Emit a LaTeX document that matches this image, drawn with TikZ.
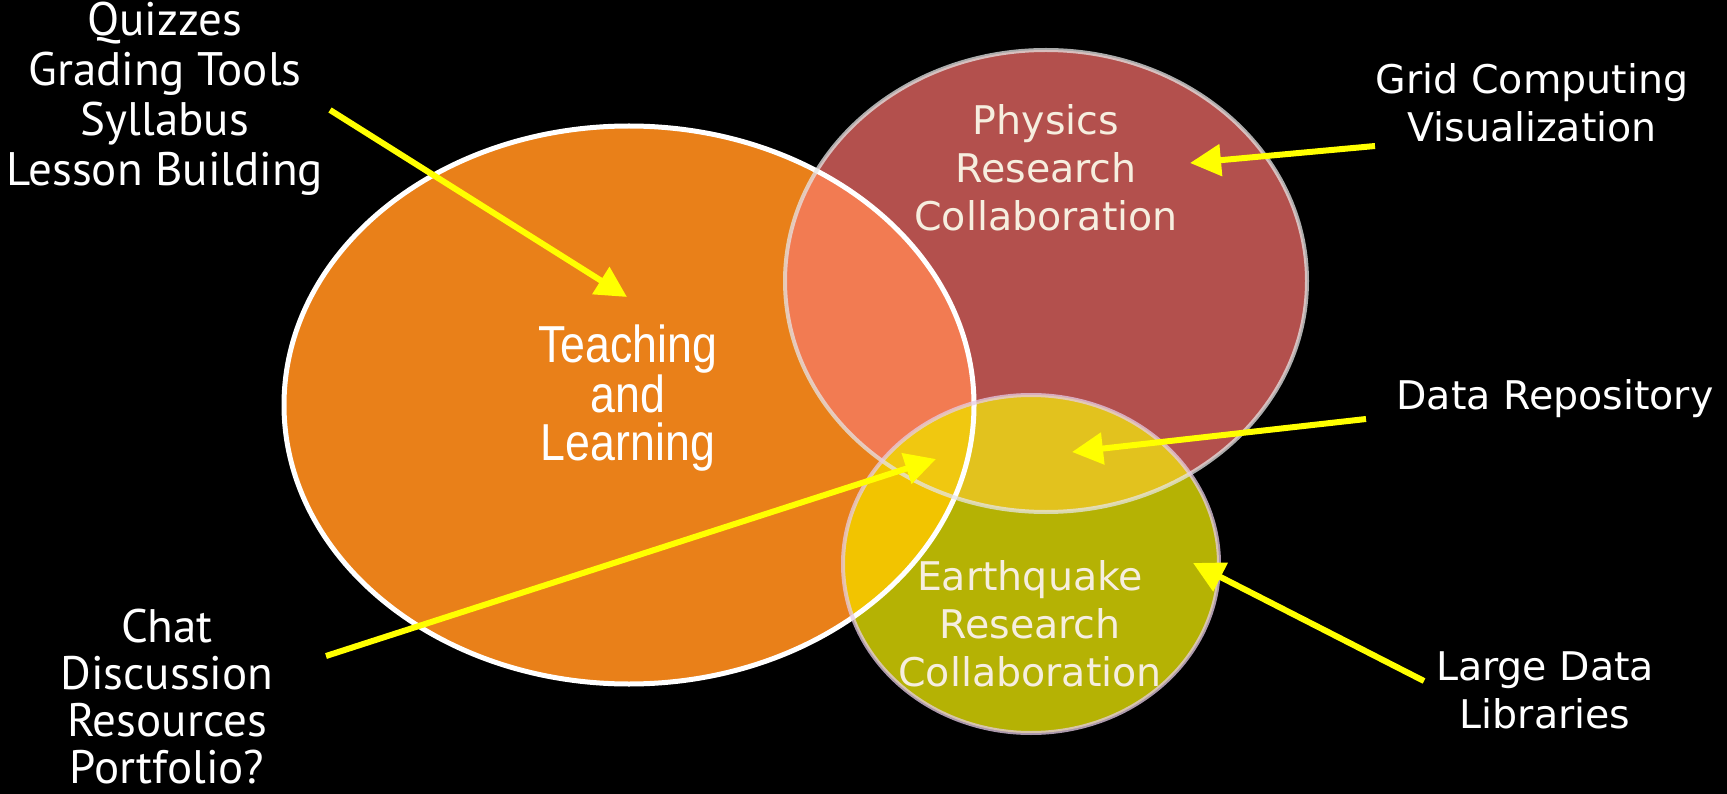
\documentclass[tikz,border=0pt]{standalone}
\usepackage{fontspec}
\setmainfont{DejaVu Sans}
\newfontfamily\leftfont{PT Sans}
\newfontfamily\narrowfont[FakeStretch=0.86]{Liberation Sans}
\newfontfamily\rightfont{DejaVu Sans}
\usetikzlibrary{arrows.meta}
\definecolor{orangefill}{HTML}{E98019}
\definecolor{redfill}{HTML}{B3504D}
\definecolor{olivefill}{HTML}{B5B204}
\definecolor{salmon}{HTML}{F27B52}
\definecolor{goldA}{HTML}{E2C21E}
\definecolor{goldB}{HTML}{F2C400}
\definecolor{goldC}{HTML}{F0C810}
\definecolor{cream}{HTML}{F6EEDF}
\definecolor{arrowyellow}{HTML}{FFFF00}
\tikzset{
  leftlabel/.style={text=white, align=center, font=\leftfont\fontsize{47}{50}\selectfont},
  leftlabelb/.style={text=white, align=center, inner sep=0pt, font=\leftfont\fontsize{47}{47}\selectfont},
  rightlabel/.style={text=white, align=center, font=\rightfont\fontsize{39.5}{48}\selectfont},
  circlabel/.style={text=cream, align=center, font=\rightfont\fontsize{39.5}{48}\selectfont},
  teachlabel/.style={text=white, align=center, font=\narrowfont\fontsize{52}{48}\selectfont},
  pointer/.style={draw=arrowyellow, line width=6pt, -{Triangle[length=31pt,width=31pt]}}
}
\begin{document}
\begin{tikzpicture}[x=1pt,y=-1pt]
\fill[black] (0,0) rectangle (1727,794);
\useasboundingbox (0,0) rectangle (1727,794);
\def\orangepath{(629,405) ellipse [x radius=345pt, y radius=279pt]}
\def\redpath{(1046,281) ellipse [x radius=261pt, y radius=231pt]}
\def\olivepath{(1031,564) ellipse [x radius=188pt, y radius=169pt]}
% fills
\fill[orangefill] \orangepath;
\fill[redfill] \redpath;
\fill[olivefill] \olivepath;
\begin{scope}
  \clip \orangepath;
  \fill[salmon] \redpath;
  \fill[goldB] \olivepath;
\end{scope}
\begin{scope}
  \clip \redpath;
  \fill[goldA] \olivepath;
\end{scope}
\begin{scope}
  \clip \orangepath;
  \clip \redpath;
  \fill[goldC] \olivepath;
\end{scope}
% borders
\draw[white, line width=5pt] \orangepath;
\draw[white!80!gray, line width=4pt, opacity=0.75] \redpath;
\draw[white!80!violet, line width=4pt, opacity=0.75] \olivepath;
% circle labels
\node[teachlabel] (teach) at (628,398) {Teaching\\and\\Learning};
\node[circlabel] (phys) at (1046,168) {Physics\\Research\\Collaboration};
\node[circlabel] (earth) at (1030,624) {Earthquake\\Research\\Collaboration};
% outside labels
\node[leftlabel] (ltop) at (165,99) {Quizzes\\Grading Tools\\Syllabus\\Lesson Building};
\node[leftlabelb] (lbot) at (167,697) {Chat\\Discussion\\Resources\\Portfolio?};
\node[rightlabel] (grid) at (1532,103) {Grid Computing\\Visualization};
\node[rightlabel] (repo) at (1555,399) {Data Repository};
\node[rightlabel] (large) at (1545,690) {Large Data\\Libraries};
% arrow coordinates
\coordinate (s1) at (330,110); \coordinate (e1) at (627,297);
\coordinate (s2) at (1375,146); \coordinate (e2) at (1190,163);
\coordinate (s3) at (1366,419); \coordinate (e3) at (1072,452);
\coordinate (s4) at (326,656); \coordinate (e4) at (936,459);
\coordinate (s5) at (1424,681); \coordinate (e5) at (1193,563);
\draw[pointer] (s1) -- (e1);
\draw[pointer] (s2) -- (e2);
\draw[pointer] (s3) -- (e3);
\draw[pointer] (s4) -- (e4);
\draw[pointer] (s5) -- (e5);
\end{tikzpicture}
\end{document}
